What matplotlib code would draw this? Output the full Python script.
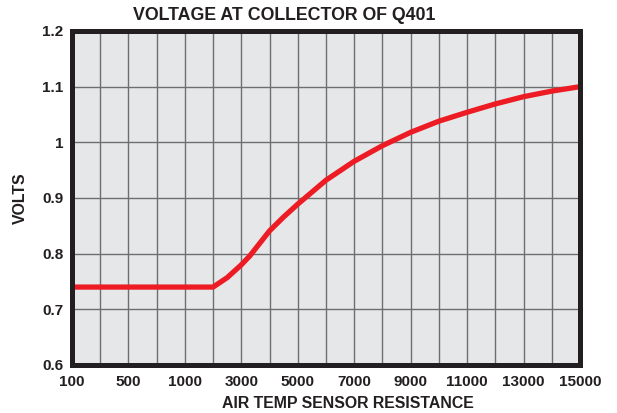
import numpy as np
import matplotlib
matplotlib.use("Agg")
import matplotlib.pyplot as plt

# Data
tick_values = [100, 500, 1000, 3000, 5000, 7000, 9000, 11000, 13000, 15000]
tick_labels = ["100", "500", "1000", "3000", "5000", "7000", "9000", "11000", "13000", "15000"]
resistance = [100, 500, 1000, 2000, 2500, 3000, 3300, 4000, 4500, 5000, 6000, 7000, 8000,
              9000, 10000, 11000, 12000, 13000, 14000, 15000]
volts = [0.74, 0.74, 0.74, 0.74, 0.757, 0.78, 0.796, 0.841, 0.866, 0.889, 0.932, 0.966, 0.994,
         1.018, 1.038, 1.054, 1.069, 1.082, 1.092, 1.100]

idx = np.arange(len(tick_values), dtype=float)

def fwd(x):
    return np.interp(x, tick_values, idx)

def inv(p):
    return np.interp(p, idx, tick_values)

plt.rcParams['font.family'] = ['Liberation Sans', 'DejaVu Sans']

fig = plt.figure(figsize=(6.17, 4.13), dpi=100)
ax = fig.add_axes([72/617, (413-365)/413, (580-72)/617, (365-31)/413])
ax.set_xscale('function', functions=(fwd, inv))
ax.set_facecolor('#e6e7e8')

# grid lines at ticks and midpoints
mids = inv(np.arange(0.5, len(tick_values) - 1, 0.5))
for v in mids:
    ax.axvline(v, color='#6d6e70', lw=1.0, zorder=1)
for yv in np.arange(0.7, 1.2, 0.1):
    ax.axhline(yv, color='#6d6e70', lw=1.0, zorder=1)

ax.plot(resistance, volts, color='#ed1c24', lw=3.8, solid_capstyle='butt', zorder=3)

ax.set_xlim(100, 15000)
ax.set_ylim(0.6, 1.2)
ax.set_xticks(tick_values)
ax.set_xticklabels(tick_labels)
ax.set_xticks([], minor=True)
ax.set_yticks([0.6, 0.7, 0.8, 0.9, 1.0, 1.1, 1.2])
ax.set_yticklabels(["0.6", "0.7", "0.8", "0.9", "1", "1.1", "1.2"])
ax.tick_params(axis='x', length=0, labelsize=11, pad=7)
ax.tick_params(axis='y', length=0, labelsize=11, pad=6)
for lab in ax.get_xticklabels() + ax.get_yticklabels():
    lab.set_fontweight('bold')
    lab.set_color('#231f20')

for s in ax.spines.values():
    s.set_linewidth(3.6)
    s.set_color('#231f20')
    s.set_zorder(5)

fig.text(284/617, 1 - 16/413, "VOLTAGE AT COLLECTOR OF Q401",
         fontsize=12.8, fontweight='bold', color='#231f20', ha='center', va='center')
fig.text(348/617, 1 - 403/413, "AIR TEMP SENSOR RESISTANCE", fontsize=11.4,
         fontweight='bold', color='#231f20', ha='center', va='center')
fig.text(20/617, 1 - 198/413, "VOLTS", fontsize=11.4, fontweight='bold',
         color='#231f20', ha='center', va='center', rotation=90)

fig.savefig("out.png", dpi=100)
